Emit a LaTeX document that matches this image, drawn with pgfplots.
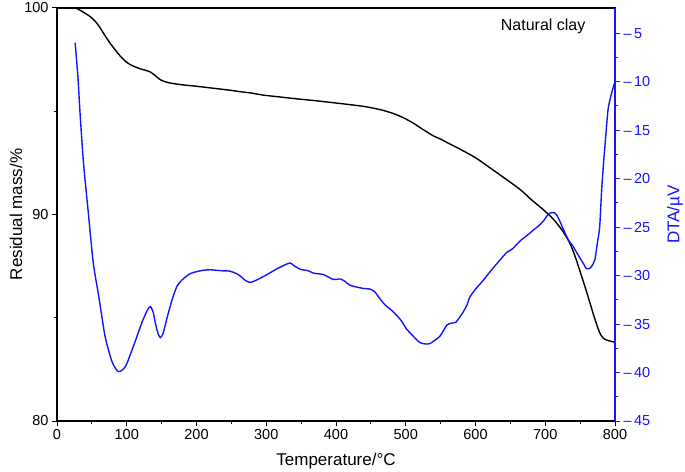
\documentclass[border=0pt]{standalone}
\usepackage{pgfplots}
\pgfplotsset{compat=1.18}
\usepackage{fontspec}
\setmainfont{Liberation Sans}
\definecolor{dtablue}{RGB}{20,20,255}

\pgfplotstableread{
T m
25 100
30 99.95
40 99.75
47 99.6
55 99.35
62 99.03
70 98.6
76 98.3
84 97.95
91 97.66
98 97.42
105 97.26
112 97.15
119 97.06
127 96.98
134 96.9
141 96.72
148 96.53
155 96.43
162 96.37
175 96.3
191 96.24
205 96.19
220 96.13
235 96.07
248 96.02
262 95.95
277 95.89
296 95.78
320 95.69
344 95.6
368 95.52
392 95.43
415 95.34
439 95.24
455 95.14
468 95.04
483 94.88
497 94.68
511 94.42
525 94.11
540 93.8
550 93.65
563 93.42
577 93.18
600 92.75
620 92.28
640 91.8
664 91.21
680 90.72
697 90.24
708 89.9
716 89.6
726 89.15
735 88.63
742 88.05
749 87.34
757 86.5
764 85.73
771 84.95
778 84.28
783 84.02
788 83.92
795 83.85
800 83.82
}\tgdata

\pgfplotstableread{
T d
26 -6.0
30 -9.5
33 -13.2
38 -18.4
45 -23.6
52 -28.7
60 -32.2
69 -36.3
79 -38.9
88 -39.9
98 -39.4
110 -37.2
122 -34.8
130 -33.5
134 -33.2
138 -33.8
141 -34.9
145 -36.0
148 -36.4
152 -36.0
158 -34.3
165 -32.5
172 -31.1
180 -30.4
191 -29.8
200 -29.6
210 -29.45
220 -29.4
235 -29.5
248 -29.55
260 -29.9
270 -30.5
277 -30.7
285 -30.5
301 -29.9
318 -29.2
334 -28.7
340 -29.0
349 -29.35
360 -29.5
368 -29.75
382 -29.9
396 -30.4
406 -30.35
413 -30.6
420 -31.0
437 -31.3
449 -31.4
456 -31.7
461 -32.2
470 -33.0
480 -33.6
487 -34.1
494 -34.7
501 -35.5
510 -36.2
520 -36.9
528 -37.05
535 -37.0
549 -36.25
559 -35.1
566 -34.9
572 -34.8
582 -33.8
588 -33.0
592 -32.2
600 -31.4
611 -30.5
622 -29.5
635 -28.4
645 -27.6
652 -27.3
659 -26.8
666 -26.3
675 -25.8
683 -25.3
690 -24.9
697 -24.4
703 -23.8
707 -23.55
712 -23.5
716 -23.7
721 -24.4
727 -25.4
733 -26.3
740 -27.0
749 -28.1
755 -28.8
759 -29.3
763 -29.3
766 -29.1
771 -28.4
775 -26.5
778 -25.0
781 -21.0
784 -18.0
786 -16.3
790 -12.9
795 -11.2
800 -10.0
}\dtadata

\begin{document}
\begin{tikzpicture}
\path[use as bounding box] (-57pt,-50pt) rectangle (628pt,421pt);
\pgfplotsset{
    every axis/.style={
        scale only axis,
        width=558pt, height=413pt,
        at={(0,0)}, anchor=south west,
        xmin=0, xmax=800,
        tick align=outside,
        major tick length=5pt,
        minor tick length=3pt,
        tick label style={font=\fontsize{14.5}{16}\selectfont},
        label style={font=\fontsize{17}{19}\selectfont},
        /pgf/number format/assume math mode=true,
        axis line style={line width=1.2pt},
        every tick/.style={line width=1pt},
    }
}

% mass axis (left)
\begin{axis}[
    ymin=80, ymax=100,
    ytick={80,90,100}, minor ytick={85,95},
    xtick={0,100,...,800}, minor xtick={50,150,...,750},
    xtick pos=bottom, ytick pos=left,
    xlabel={Temperature/°C},
    ylabel={Residual mass/\%},
    xlabel style={yshift=-7pt},
    ylabel style={yshift=-5pt},
]
\addplot[black, line width=1.4pt, mark=none, smooth, tension=0.4] table[x=T, y=m] {\tgdata};
\node[font=\fontsize{16}{18}\selectfont, anchor=center] at (axis cs:697,99.1) {Natural clay};
\end{axis}

% DTA axis (right)
\begin{axis}[
    axis x line=none,
    axis y line*=right,
    ymin=-45, ymax=-2.4,
    ytick={-45,-40,...,-5},
    yticklabels={–\,45,–\,40,–\,35,–\,30,–\,25,–\,20,–\,15,–\,10,–\,5},
    minor ytick={-42.5,-37.5,...,-7.5},
    y axis line style={dtablue},
    ytick style={dtablue},
    minor tick style={dtablue},
    yticklabel style={text=dtablue},
    ylabel={DTA/µV},
    ylabel style={text=dtablue, yshift=-10pt},
]
\addplot[dtablue, line width=1.4pt, mark=none, smooth, tension=0.4] table[x=T, y=d] {\dtadata};
\end{axis}
\end{tikzpicture}
\end{document}
